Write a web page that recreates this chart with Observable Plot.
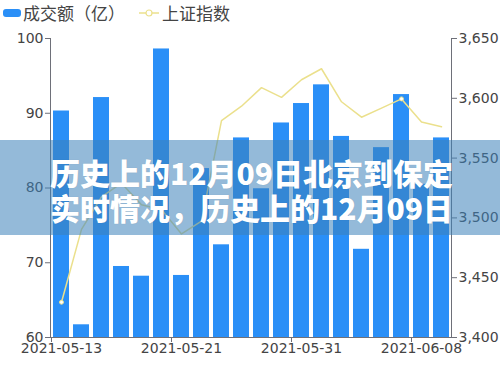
<!DOCTYPE html>
<html>
<head>
<meta charset="utf-8">
<script src="https://cdn.jsdelivr.net/npm/d3@7"></script>
<script src="https://cdn.jsdelivr.net/npm/@observablehq/plot@0.6"></script>
<style>
  html, body { margin: 0; padding: 0; background: #fff; }
  #wrap { position: relative; width: 500px; height: 375px; overflow: hidden; }
  #chart { position: absolute; left: 0; top: 0; }
  .legend { position: absolute; top: 0; left: 0; height: 26px; width: 500px;
            font-family: "Noto Sans CJK SC", "Noto Sans", sans-serif; font-size: 17px; color: #444; }
  .legend span.t { position: absolute; top: 1px; line-height: 24px; }
  .band { position: absolute; left: 0; top: 140px; width: 500px; height: 95px;
          background: rgba(60,130,185,0.55); }
  .band div { position: absolute; left: 50px; color: #fff; font-weight: 900;
              font-family: "Noto Sans CJK SC", sans-serif; font-size: 30px; line-height: 34px; white-space: nowrap;
              text-shadow: 0 0 1px rgba(0,0,0,0.15); }
</style>
</head>
<body>
<div id="wrap">
  <div id="chart"></div>
  <div class="legend" id="legend"></div>
  <div class="band">
    <div id="line1" style="top:15px"></div>
    <div id="line2" style="top:50px"></div>
  </div>
</div>
<script>
// ---- data ----
const dates = ["2021-05-13","2021-05-14","2021-05-17","2021-05-18","2021-05-19","2021-05-20","2021-05-21",
  "2021-05-24","2021-05-25","2021-05-26","2021-05-27","2021-05-28","2021-05-31","2021-06-01",
  "2021-06-02","2021-06-03","2021-06-04","2021-06-07","2021-06-08","2021-06-09"];
const turnover = [90.3, 61.7, 92.1, 69.5, 68.2, 98.6, 68.3, 82.6, 72.4, 86.7,
  79.9, 88.7, 91.3, 93.8, 86.9, 71.8, 85.4, 92.5, 80.5, 86.7];
const sseIndex = [3429.5, 3490.4, 3517.6, 3529.0, 3511.0, 3506.9, 3486.6, 3497.3, 3581.3, 3593.4,
  3608.9, 3600.8, 3615.5, 3624.7, 3597.1, 3584.2, 3591.8, 3599.5, 3580.1, 3576.2];
const symbolDates = ["2021-05-13", "2021-06-07"];
const leftTicks = [60, 70, 80, 90, 100];
const rightTicks = [3400, 3450, 3500, 3550, 3600, 3650];
const xTickLabels = ["2021-05-13", "2021-05-21", "2021-05-31", "2021-06-08"];
const legendNames = ["成交额（亿）", "上证指数"];
const titleLines = ["历史上的12月09日北京到保定", "实时情况，历史上的12月09日"];

// ---- dual axis mapping ----
const leftDomain = [60, 100];
const rightDomain = [3400, 3650];
const toLeft = v => leftDomain[0] + (v - rightDomain[0]) / (rightDomain[1] - rightDomain[0]) * (leftDomain[1] - leftDomain[0]);
const fromLeft = v => rightDomain[0] + (v - leftDomain[0]) / (leftDomain[1] - leftDomain[0]) * (rightDomain[1] - rightDomain[0]);

const rows = dates.map((d, i) => ({date: d, turnover: turnover[i], sse: sseIndex[i], sseL: toLeft(sseIndex[i])}));

const barColor = "#2a8ff7";
const lineColor = "#ebe08c";
const axisColor = "#6e7079";

const chart = Plot.plot({
  width: 500,
  height: 375,
  marginLeft: 50,
  marginRight: 49,
  marginTop: 38,
  marginBottom: 38,
  style: {fontFamily: "DejaVu Sans, sans-serif", fontSize: "14px", color: "#444", background: "transparent"},
  x: {type: "band", domain: dates, paddingInner: 0.2, paddingOuter: 0.1, axis: null},
  y: {domain: leftDomain, axis: null},
  marks: [
    Plot.barY(rows, {x: "date", y1: leftDomain[0], y2: "turnover", fill: barColor}),
    Plot.line(rows, {x: "date", y: "sseL", stroke: lineColor, strokeWidth: 1.5}),
    Plot.dot(rows.filter(d => symbolDates.includes(d.date)), {x: "date", y: "sseL", r: 2, fill: "#fff", stroke: lineColor, strokeWidth: 1}),
    Plot.frame({anchor: "left", stroke: axisColor}),
    Plot.frame({anchor: "right", stroke: axisColor}),
    Plot.frame({anchor: "bottom", stroke: axisColor}),
    Plot.axisY(leftTicks, {anchor: "left", tickSize: 5, tickPadding: 2, stroke: axisColor, fill: "#444", label: null}),
    Plot.axisY(rightTicks.map(toLeft), {anchor: "right", tickSize: 5, tickPadding: 2, stroke: axisColor, fill: "#444",
      tickFormat: v => d3.format(",")(Math.round(fromLeft(v))), label: null}),
    Plot.axisX(xTickLabels, {anchor: "bottom", tickSize: 0, tickPadding: 6, fill: "#444", label: null}),
    Plot.axisX(xTickLabels, {anchor: "bottom", tickSize: 5, dx: -10, stroke: axisColor, tickFormat: () => "", label: null})
  ]
});
document.getElementById("chart").appendChild(chart);

// ---- legend ----
const lg = document.getElementById("legend");
lg.innerHTML =
  `<div style="position:absolute;left:3px;top:9px;width:18px;height:8px;border-radius:3px;background:${barColor}"></div>` +
  `<span class="t" style="left:23px">${legendNames[0]}</span>` +
  `<svg style="position:absolute;left:138px;top:6px" width="22" height="14"><line x1="1" y1="7" x2="21" y2="7" stroke="${lineColor}" stroke-width="1.5"/><circle cx="11" cy="7" r="3" fill="#fff" stroke="${lineColor}" stroke-width="1.2"/></svg>` +
  `<span class="t" style="left:162px">${legendNames[1]}</span>`;

document.getElementById("line1").textContent = titleLines[0];
document.getElementById("line2").textContent = titleLines[1];
</script>
</body>
</html>
